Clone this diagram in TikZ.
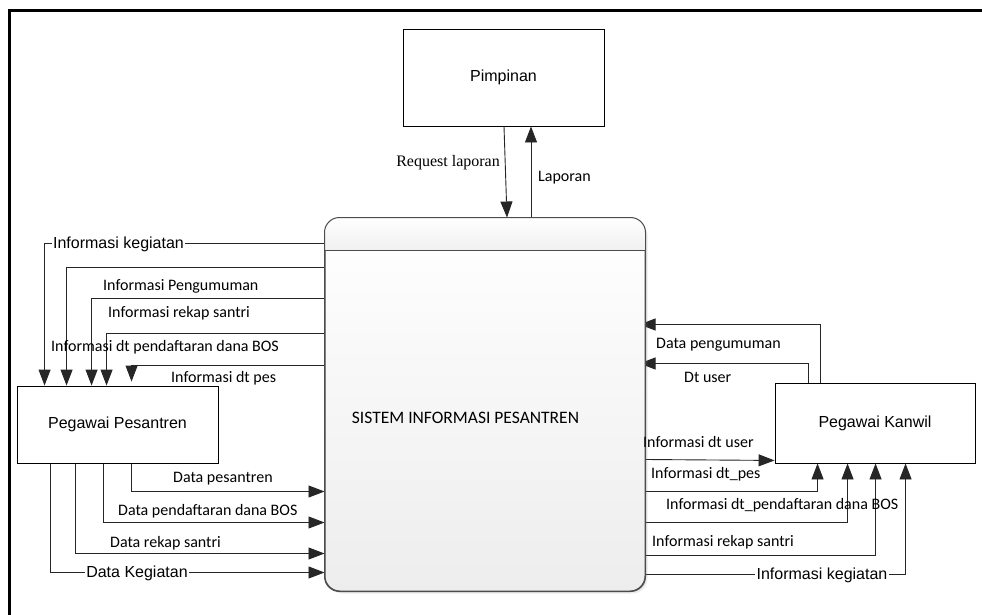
\documentclass[tikz,border=0pt]{standalone}
\usepackage{fontspec}
\setmainfont{Carlito}
\newfontfamily\arialfont{Liberation Sans}
\newfontfamily\timesfont{Liberation Serif}
\usetikzlibrary{arrows.meta,shadows}
\pgfdeclarelayer{back}
\pgfdeclarelayer{wires}
\pgfsetlayers{back,wires,main}

\begin{document}
\begin{tikzpicture}[x=1pt,y=-1pt,
  entity/.style={draw=black, line width=0.9pt, fill=white, inner sep=0pt,
    font=\arialfont\fontsize{16}{19}\selectfont},
  procbox/.style={draw=black!70, line width=1pt, rounded corners=15pt,
    top color=white, bottom color=black!7,
    drop shadow={opacity=0.15, shadow xshift=2.5pt, shadow yshift=-2.5pt}},
  flow/.style={draw=black!85, line width=0.9pt,
    -{Triangle[length=16pt,width=12pt]}},
  lbl/.style={inner sep=0pt, anchor=west, font=\fontsize{16}{19}\selectfont},
  inlbl/.style={inner sep=1.5pt, fill=white,
    font=\arialfont\fontsize{16}{19}\selectfont}]

\useasboundingbox (0,0) rectangle (982,615);
\begin{pgfonlayer}{back}
  \fill[white] (0,0) rectangle (982,615);
  % page frame
  \draw[line width=3pt, line cap=rect] (9,615) -- (9,11) -- (982,11);
\end{pgfonlayer}

% external entities
\node[entity, minimum width=201pt, minimum height=97pt] (pim) at (503.5,77.5) {Pimpinan};
\node[entity, minimum width=201pt, minimum height=77pt] (pp) at (117.5,424.5) {Pegawai Pesantren};
\node[entity, minimum width=200pt, minimum height=80pt] (pk) at (875,423) {Pegawai Kanwil};

% process
\node[procbox, minimum width=320pt, minimum height=373pt] (sip) at (485,404.5) {};
\coordinate (hdrw) at ([yshift=-33pt]sip.north west);
\coordinate (hdre) at ([yshift=-33pt]sip.north east);
\begin{scope}
  \clip[rounded corners=15pt] (sip.south west) rectangle (sip.north east);
  \shade[top color=white, bottom color=black!6] (sip.north west) rectangle (hdre);
\end{scope}
\draw[draw=black!70, line width=1pt, rounded corners=15pt] (sip.south west) rectangle (sip.north east);
\draw[draw=black!70, line width=1pt] (hdrw) -- (hdre);
\node[font=\fontsize{17.5}{20}\selectfont, inner sep=0pt] (sipname) at (465.5,418) {SISTEM INFORMASI PESANTREN};

\begin{pgfonlayer}{wires}
  % Pimpinan
  \draw[flow] ([xshift=0.5pt]pim.south) -- ([xshift=22pt]sip.north);
  \draw[flow] ([xshift=46pt]sip.north) -- ([xshift=27.5pt]pim.south);

  % to Pegawai Pesantren
  \draw[flow] ([yshift=-26pt]sip.north west) -| ([xshift=28pt]pp.north west);
  \draw[flow] ([yshift=-50pt]sip.north west) -| ([xshift=50pt]pp.north west);
  \draw[flow] ([yshift=-81pt]sip.north west) -| ([xshift=75pt]pp.north west);
  \draw[flow] ([yshift=-116pt]sip.north west) -| ([xshift=90pt]pp.north west);
  \draw[flow] ([yshift=-148pt]sip.north west) -| ([xshift=115pt,yshift=4pt]pp.north west);

  % from Pegawai Pesantren
  \draw[flow] ([xshift=115pt]pp.south west) |- ([yshift=-274pt]sip.north west);
  \draw[flow] ([xshift=87pt]pp.south west) |- ([yshift=-305pt]sip.north west);
  \draw[flow] ([xshift=59pt]pp.south west) |- ([yshift=-336pt]sip.north west);
  \draw[flow] ([xshift=34pt]pp.south west) |- ([yshift=-355pt]sip.north west);

  % from Pegawai Kanwil
  \draw[flow] ([xshift=46pt]pk.north west) |- ([xshift=-6pt,yshift=-107pt]sip.north east);
  \draw[flow] ([xshift=34pt]pk.north west) |- ([xshift=-6pt,yshift=-146pt]sip.north east);

  % to Pegawai Kanwil
  \draw[flow] ([yshift=-242pt]sip.north east) -- ([yshift=3pt]pk.south west);
  \draw[flow] ([yshift=-274pt]sip.north east) -| ([xshift=43pt]pk.south west);
  \draw[flow] ([yshift=-305pt]sip.north east) -| ([xshift=73pt]pk.south west);
  \draw[flow] ([yshift=-338pt]sip.north east) -| ([xshift=101pt]pk.south west);
  \draw[flow] ([yshift=-357pt]sip.north east) -| ([xshift=131pt]pk.south west);
\end{pgfonlayer}

% flow labels
\node[lbl, anchor=east, font=\timesfont\fontsize{16}{19}\selectfont] (l1) at (500,163) {Request laporan};
\node[lbl] (l2) at (538,178) {Laporan};

\node[inlbl] (l3) at (118.5,244) {Informasi kegiatan};
\node[lbl] (l4) at (103,286) {Informasi Pengumuman};
\node[lbl] (l5) at (108,313) {Informasi rekap santri};
\node[lbl] (l6) at (51,347) {Informasi dt pendaftaran dana BOS};
\node[lbl] (l7) at (171,378) {Informasi dt pes};

\node[lbl] (l8) at (173,479) {Data pesantren};
\node[lbl] (l9) at (118,511) {Data pendaftaran dana BOS};
\node[lbl] (l10) at (110,543) {Data rekap santri};
\node[inlbl] (l11) at (137,573) {Data Kegiatan};

\node[lbl] (l12) at (656,345) {Data pengumuman};
\node[lbl] (l13) at (684,377) {Dt user};
\node[lbl] (l14) at (643,442) {Informasi dt user};
\node[lbl] (l15) at (651,474) {Informasi dt\_pes};
\node[lbl] (l16) at (666,505) {Informasi dt\_pendaftaran dana BOS};
\node[lbl] (l17) at (652,542) {Informasi rekap santri};
\node[inlbl] (l18) at (822,575) {Informasi kegiatan};

\end{tikzpicture}
\end{document}
